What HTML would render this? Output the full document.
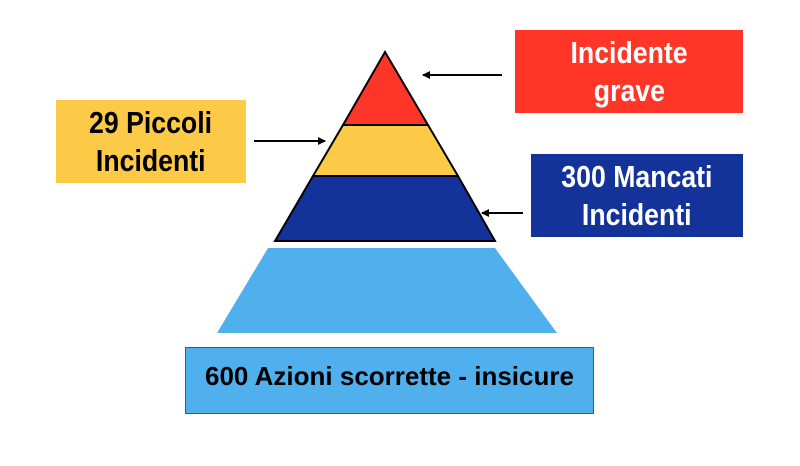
<!DOCTYPE html>
<html><head><meta charset="utf-8"><style>
html,body{margin:0;padding:0;background:#fff;}
body{width:800px;height:466px;position:relative;overflow:hidden;font-family:"Liberation Sans",sans-serif;}
.box{position:absolute;display:flex;flex-direction:column;align-items:center;justify-content:center;font-weight:bold;font-size:31px;line-height:38px;text-align:center;}
.box span{display:inline-block;transform:scaleX(0.86);white-space:nowrap;}
</style></head><body>
<svg width="800" height="466" style="position:absolute;left:0;top:0">
<defs><marker id="a" markerWidth="8" markerHeight="8" refX="7" refY="4" orient="auto" markerUnits="userSpaceOnUse"><path d="M0,0 L8,4 L0,8 Z" fill="#000"/></marker></defs>
<polygon points="268,248 495,248 557,333 217,333" fill="#50b0ee"/>
<polygon points="385,52 428,125 343,125" fill="#fe3527" stroke="#000" stroke-width="2"/>
<polygon points="343,125 428,125 458,176 313,176" fill="#fdca48" stroke="#000" stroke-width="2"/>
<polygon points="313,176 458,176 495,241 275,241" fill="#13339a" stroke="#000" stroke-width="2"/>
<line x1="502" y1="75" x2="423" y2="75" stroke="#000" stroke-width="2" marker-end="url(#a)"/>
<line x1="254" y1="141" x2="325" y2="141" stroke="#000" stroke-width="2" marker-end="url(#a)"/>
<line x1="523" y1="213" x2="482" y2="213" stroke="#000" stroke-width="2" marker-end="url(#a)"/>
</svg>
<div class="box" style="left:515px;top:30px;width:228px;height:83px;background:#fe3527;color:#fff"><span>Incidente</span><span>grave</span></div>
<div class="box" style="left:56px;top:100px;width:190px;height:83px;background:#fdca48;color:#000"><span>29 Piccoli</span><span>Incidenti</span></div>
<div class="box" style="left:531px;top:154px;width:212px;height:83px;background:#13339a;color:#fff"><span>300 Mancati</span><span>Incidenti</span></div>
<div style="position:absolute;left:185px;top:347px;width:409px;height:67px;background:#50b0ee;border:1px solid #555;font-weight:bold;font-size:26px;text-align:center;line-height:28px;padding-top:14px;box-sizing:border-box;white-space:nowrap;">600 Azioni scorrette - insicure</div>
</body></html>
